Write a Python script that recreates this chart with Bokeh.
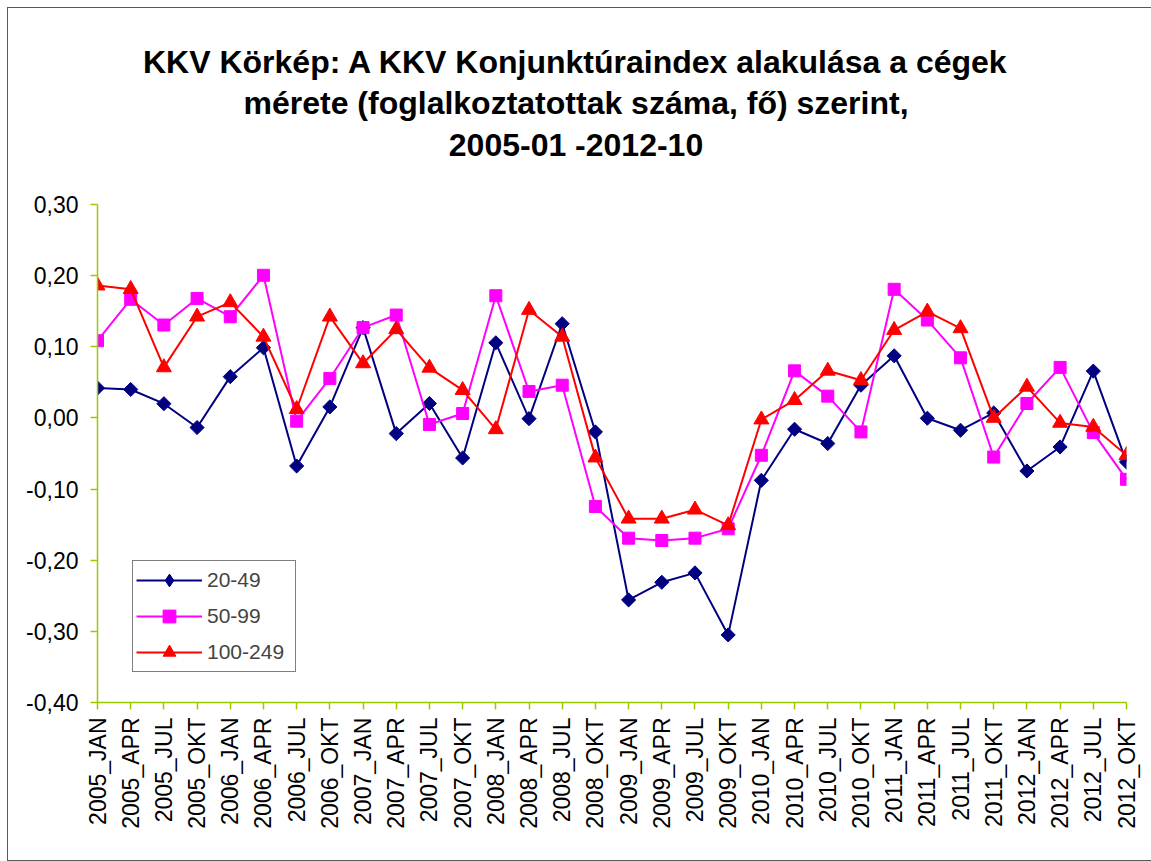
import math
from bokeh.plotting import figure
from bokeh.models import Range1d, FixedTicker, CustomJSTickFormatter, Label, Legend, LegendItem
from bokeh.embed import file_html
from bokeh.resources import INLINE

categories = ["2005_JAN", "2005_APR", "2005_JUL", "2005_OKT",
              "2006_JAN", "2006_APR", "2006_JUL", "2006_OKT",
              "2007_JAN", "2007_APR", "2007_JUL", "2007_OKT",
              "2008_JAN", "2008_APR", "2008_JUL", "2008_OKT",
              "2009_JAN", "2009_APR", "2009_JUL", "2009_OKT",
              "2010_JAN", "2010_APR", "2010_JUL", "2010_OKT",
              "2011_JAN", "2011_APR", "2011_JUL", "2011_OKT",
              "2012_JAN", "2012_APR", "2012_JUL", "2012_OKT"]

s_20_49 = [0.042, 0.040, 0.020, -0.0135, 0.058, 0.0986, -0.0676, 0.0155,
           0.127, -0.022, 0.0203, -0.0563, 0.1056, -0.001, 0.1324, -0.0197,
           -0.2558, -0.231, -0.2178, -0.305, -0.0877, -0.0159, -0.036, 0.046,
           0.0873, -0.0004, -0.0173, 0.007, -0.0746, -0.0408, 0.0658, -0.062]

s_50_99 = [0.1085, 0.1667, 0.1306, 0.168, 0.1423, 0.2005, -0.0046, 0.0555,
           0.127, 0.1446, -0.0093, 0.0062, 0.1718, 0.0372, 0.046, -0.1244,
           -0.169, -0.1723, -0.169, -0.1558, -0.0525, 0.0662, 0.0306, -0.0197,
           0.1808, 0.1376, 0.0845, -0.055, 0.0203, 0.071, -0.0206, -0.0863]

s_100_249 = [0.186, 0.181, 0.071, 0.1423, 0.1625, 0.114, 0.0122, 0.1423,
             0.0766, 0.1245, 0.0704, 0.039, -0.016, 0.1517, 0.114, -0.0558,
             -0.1417, -0.1417, -0.129, -0.151, -0.0023, 0.025, 0.0662, 0.053,
             0.1235, 0.1493, 0.1259, 0.0, 0.0437, -0.007, -0.0127, -0.0525]

series_names = ["20-49", "50-99", "100-249"]
y_min, y_max = -0.4, 0.3
y_ticks = [-0.4, -0.3, -0.2, -0.1, 0.0, 0.1, 0.2, 0.3]
title_lines = ["KKV Körkép: A KKV Konjunktúraindex alakulása a cégek",
               "mérete (foglalkoztatottak száma, fő) szerint,",
               "2005-01 -2012-10"]

FONT = "Liberation Sans"
AXIS_COLOR = "#99CC00"
TITLE_PX = 32

# ---- layout geometry (page pixels) ----
PAGE_X0, PAGE_Y0 = 8, 8           # figure origin on page
W, H = 1143, 852
AX_LEFT, AX_RIGHT = 97, 1126      # x of first / last category
AX_TOP, AX_BOTTOM = 204, 702      # y of 0.30 / -0.40
TITLE_CX = 575.5
TITLE_BASELINES = [61, 102, 144]

n = len(categories)
x = list(range(n))
units_per_px = (y_max - y_min) / (AX_BOTTOM - AX_TOP)
# the frame extends to the top of the figure so the title can live inside it;
# the visible y axis is limited with bounds
y_top_extended = y_max + (AX_TOP - PAGE_Y0) * units_per_px
cat_per_px = (n - 1) / (AX_RIGHT - AX_LEFT)

p = figure(width=W, height=H,
           x_range=Range1d(0, n - 1),
           y_range=Range1d(y_min, y_top_extended),
           output_backend="svg", toolbar_location=None,
           min_border_left=AX_LEFT - PAGE_X0,
           min_border_right=PAGE_X0 + W - AX_RIGHT,
           min_border_top=0,
           min_border_bottom=PAGE_Y0 + H - AX_BOTTOM)
p.styles = {"margin": "8px 0px 0px 8px",
            "outline": "1px solid #5a5a5a", "outline-offset": "0px"}
p.outline_line_color = None
p.background_fill_color = "white"
p.border_fill_color = "white"
p.xgrid.visible = False
p.ygrid.visible = False

# axes
p.xaxis.ticker = FixedTicker(ticks=x)
p.xaxis.major_label_overrides = {i: c for i, c in enumerate(categories)}
p.xaxis.major_label_orientation = math.pi / 2
p.yaxis.ticker = FixedTicker(ticks=y_ticks)
p.yaxis.bounds = (y_min, y_max)
p.yaxis.formatter = CustomJSTickFormatter(code="return tick.toFixed(2).replace('.', ',');")
for ax in (p.xaxis[0], p.yaxis[0]):
    ax.axis_line_color = AXIS_COLOR
    ax.axis_line_width = 1.5
    ax.major_tick_line_color = AXIS_COLOR
    ax.major_tick_line_width = 1.5
    ax.minor_tick_line_color = None
    ax.major_tick_in = 0
    ax.major_tick_out = 7
    ax.major_label_text_font = FONT
    ax.major_label_text_font_size = "23px"
    ax.major_label_text_color = "black"
p.xaxis.major_label_standoff = 8
p.yaxis.major_label_standoff = 12

colors = ["#000080", "#FF00FF", "#FF0000"]
marker_kws = [dict(marker="square", size=10, angle=math.pi / 4),
              dict(marker="square", size=12),
              dict(marker="triangle", size=15)]
legend_markers = ["diamond", "square", "triangle"]

items = []
for vals, name, col, mkw, lmk in zip([s_20_49, s_50_99, s_100_249], series_names,
                                     colors, marker_kws, legend_markers):
    r_line = p.line(x, vals, line_color=col, line_width=2)
    p.scatter(x, vals, fill_color=col, line_color=col, **mkw)
    # legend-only marker (not drawn in the plot)
    r_leg = p.scatter(x, vals, marker=lmk, fill_color=col, line_color=col, size=12)
    r_leg.visible = False
    items.append(LegendItem(label=name, renderers=[r_line, r_leg]))

leg = Legend(items=items, location=(35, 30))
leg.border_line_color = "black"
leg.border_line_width = 1
leg.background_fill_color = "white"
leg.background_fill_alpha = 1
leg.padding = 3
leg.spacing = 4
leg.margin = 0
leg.glyph_width = 66
leg.glyph_height = 32
leg.label_height = 32
leg.label_width = 85
leg.label_standoff = 5
leg.label_text_font = FONT
leg.label_text_font_size = "21px"
p.add_layout(leg, "center")

# title lines, centred at TITLE_CX
title_x = (TITLE_CX - AX_LEFT) * cat_per_px
for txt, by in zip(title_lines, TITLE_BASELINES):
    ty = y_max + (AX_TOP - by) * units_per_px
    p.add_layout(Label(x=title_x, y=ty, text=txt,
                       text_align="center", text_baseline="alphabetic",
                       text_font=FONT, text_font_style="bold",
                       text_font_size=f"{TITLE_PX}px", text_color="black"))

open("out.html", "w").write(file_html(p, INLINE))
